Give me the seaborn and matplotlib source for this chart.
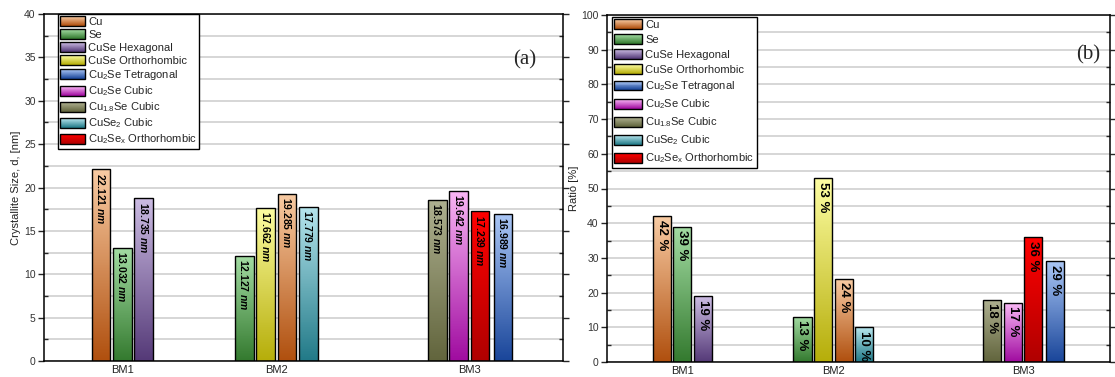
import numpy as np
import pandas as pd
import matplotlib
matplotlib.use("Agg")
import matplotlib.pyplot as plt
import seaborn as sns
from matplotlib.colors import LinearSegmentedColormap, to_hex, to_rgb
from matplotlib.patches import Patch, Rectangle
from matplotlib.legend_handler import HandlerBase
from matplotlib.ticker import MultipleLocator, AutoMinorLocator
from matplotlib.transforms import ScaledTranslation

# ---- data ----
groups = ["BM1", "BM2", "BM3"]
legend_phases = ["Cu", "Se", "CuSe Hexagonal", "CuSe Orthorhombic", "Cu2Se Tetragonal",
                 "Cu2Se Cubic", "Cu1.8Se Cubic", "CuSe2 Cubic", "Cu2Sex Orthorhombic"]
legend_labels = ["Cu", "Se", "CuSe Hexagonal", "CuSe Orthorhombic", "Cu$_2$Se Tetragonal",
                 "Cu$_2$Se Cubic", "Cu$_{1.8}$Se Cubic", "CuSe$_2$ Cubic", "Cu$_2$Se$_x$ Orthorhombic"]

bm1_phases = ["Cu", "Se", "CuSe Hexagonal"]
bm1_size = [22.121, 13.032, 18.735]
bm1_ratio = [42, 39, 19]

bm2_phases = ["Se", "CuSe Orthorhombic", "Cu", "CuSe2 Cubic"]
bm2_size = [12.127, 17.662, 19.285, 17.779]
bm2_ratio = [13, 53, 24, 10]

bm3_phases = ["Cu1.8Se Cubic", "Cu2Se Cubic", "Cu2Sex Orthorhombic", "Cu2Se Tetragonal"]
bm3_size = [18.573, 19.642, 17.239, 16.989]
bm3_ratio = [18, 17, 36, 29]

# top / bottom colours of the gradient fill per phase
grad = {
    "Cu": ("#f8cba3", "#b0500f"),
    "Se": ("#a3dca3", "#347a2f"),
    "CuSe Hexagonal": ("#cbbbe2", "#553a78"),
    "CuSe Orthorhombic": ("#fdfda2", "#b6ae0a"),
    "Cu2Se Tetragonal": ("#aac6f5", "#1a469a"),
    "Cu2Se Cubic": ("#f9b6f5", "#a00ca0"),
    "Cu1.8Se Cubic": ("#aeb090", "#62653d"),
    "CuSe2 Cubic": ("#b6e5ed", "#227a88"),
    "Cu2Sex Orthorhombic": ("#ff0000", "#b00000"),
}
mid = {k: to_hex((np.array(to_rgb(a)) + np.array(to_rgb(b))) / 2) for k, (a, b) in grad.items()}

sns.set_style("white")
plt.rcParams["font.family"] = ["Liberation Sans", "DejaVu Sans"]
plt.rcParams["mathtext.default"] = "regular"
plt.rcParams["mathtext.fontset"] = "custom"
plt.rcParams["mathtext.it"] = "Liberation Sans:bold:italic"
plt.rcParams["mathtext.rm"] = "Liberation Sans"
plt.rcParams["mathtext.bf"] = "Liberation Sans:bold"


def build_frame(values, starts, last_gap):
    rows = []
    for g, ph, vals, s in zip(groups, [bm1_phases, bm2_phases, bm3_phases], values, starts):
        for i, (p, v) in enumerate(zip(ph, vals)):
            extra = last_gap if (g == "BM3" and i == 3) else 0.0
            rows.append({"group": g, "phase": p, "value": v, "pos": s + i + extra})
    return pd.DataFrame(rows)


class GradientHandler(HandlerBase):
    def create_artists(self, legend, orig_handle, xdescent, ydescent, width, height, fontsize, trans):
        top, bot = grad[orig_handle.phase]
        top, bot = np.array(to_rgb(top)), np.array(to_rgb(bot))
        arts = []
        n = 10
        for i in range(n):
            t = i / (n - 1)
            arts.append(Rectangle((-xdescent, -ydescent + i * height / n), width, height / n,
                                  facecolor=bot + (top - bot) * t, edgecolor="none", transform=trans))
        arts.append(Rectangle((-xdescent, -ydescent), width, height, facecolor="none",
                              edgecolor="black", lw=1.0, transform=trans))
        return arts


def paint_gradients(ax):
    color_to_phase = {mid[k]: k for k in mid}
    for p in list(ax.patches):
        fc = to_hex(p.get_facecolor()[:3])
        if fc not in color_to_phase:
            continue
        top, bot = grad[color_to_phase[fc]]
        cmap = LinearSegmentedColormap.from_list("g", [bot, top])
        x, y, w, h = p.get_x(), p.get_y(), p.get_width(), p.get_height()
        im = ax.imshow(np.linspace(0, 1, 64).reshape(-1, 1), cmap=cmap, origin="lower",
                       extent=[x, x + w, y, y + h], aspect="auto", zorder=0.9)
        im.set_clip_path(p)
        p.set_facecolor("none")
        p.set_edgecolor("black")
        p.set_linewidth(1.0)


def draw_panel(ax, df, ylim, ystep, ylabel, xlim, width, fmt, label_fs, leg_space,
               handle_len, legend_anchor, tag, tag_xy):
    sns.barplot(data=df, x="pos", y="value", hue="phase", palette=mid, native_scale=True,
                dodge=False, width=width, saturation=1, legend=False, ax=ax)
    paint_gradients(ax)
    for _, r in df.iterrows():
        ax.annotate(fmt(r["value"]), (r["pos"], r["value"]), xytext=(0, -2.5),
                    textcoords="offset points", rotation=-90, ha="center", va="top",
                    fontsize=label_fs, fontweight="bold", color="black", zorder=5)
    ax.set_xlim(*xlim)
    ax.set_ylim(*ylim)
    ax.yaxis.set_major_locator(MultipleLocator(ystep))
    ax.yaxis.set_minor_locator(AutoMinorLocator(2))
    ax.set_axisbelow(True)
    ax.grid(which="both", axis="y", color="#d6d6d6", lw=1.4)
    ax.grid(False, axis="x")
    centers = df.groupby("group", sort=False)["pos"].mean()
    ax.set_xticks(centers.values)
    ax.set_xticklabels(groups, fontsize=8, color="#222222")
    # BM3 label sits a little lower in the original
    lab3 = ax.get_xticklabels()[2]
    lab3.set_transform(lab3.get_transform() + ScaledTranslation(0, -2 / 100, ax.figure.dpi_scale_trans))
    ax.tick_params(axis="x", length=0, pad=3)
    ax.tick_params(axis="y", which="major", direction="out", length=4, width=1,
                   labelsize=7.5, labelcolor="#333333", right=True, left=True, pad=2)
    ax.tick_params(axis="y", which="minor", direction="in", length=3, width=1, left=True, right=True)
    ax.set_xlabel("")
    ax.set_ylabel(ylabel, fontsize=8, color="#222222", labelpad=2)
    for s in ax.spines.values():
        s.set_visible(True)
        s.set_color("black")
        s.set_linewidth(1.1)
    handles = []
    for ph, lab in zip(legend_phases, legend_labels):
        h = Patch(facecolor=mid[ph], label=lab)
        h.phase = ph
        handles.append(h)
    leg = ax.legend(handles=handles, loc="upper left", bbox_to_anchor=legend_anchor,
                    fontsize=8, handler_map={Patch: GradientHandler()},
                    frameon=True, fancybox=False, framealpha=1, edgecolor="black",
                    borderpad=0.2, labelspacing=leg_space, handlelength=handle_len,
                    handleheight=1.0, handletextpad=0.3, borderaxespad=0)
    leg.get_frame().set_linewidth(1.0)
    ax.text(tag_xy[0], tag_xy[1], tag, transform=ax.transAxes, fontsize=15,
            family="Liberation Serif", ha="center", va="center")


fig = plt.figure(figsize=(11.15, 3.77), dpi=100)
ax_a = fig.add_axes([44 / 1115, 1 - 361 / 377, 519 / 1115, 347 / 377])
ax_b = fig.add_axes([607 / 1115, 1 - 362 / 377, 503 / 1115, 347 / 377])

df_size = build_frame([bm1_size, bm2_size, bm3_size], [2.68, 9.41, 18.47], 0.08)
df_ratio = build_frame([bm1_ratio, bm2_ratio, bm3_ratio], [2.65, 9.49, 18.69], 0.08)

draw_panel(ax_a, df_size, (0, 40), 5, "Crystallite Size, d, [nm]", (0, 24.37), 0.87,
           lambda v: f"{v:.3f} $\\mathit{{nm}}$", 7.5, 0.2, 2.2,
           (0.027, 1.0), "(a)", (0.927, 0.867))
draw_panel(ax_b, df_ratio, (0, 100), 10, "Ratio [%]", (0, 24.42), 0.88,
           lambda v: f"{v:.0f} %", 9.5, 0.38, 2.5,
           (0.01, 0.994), "(b)", (0.956, 0.885))

fig.savefig("out.png", dpi=100)
